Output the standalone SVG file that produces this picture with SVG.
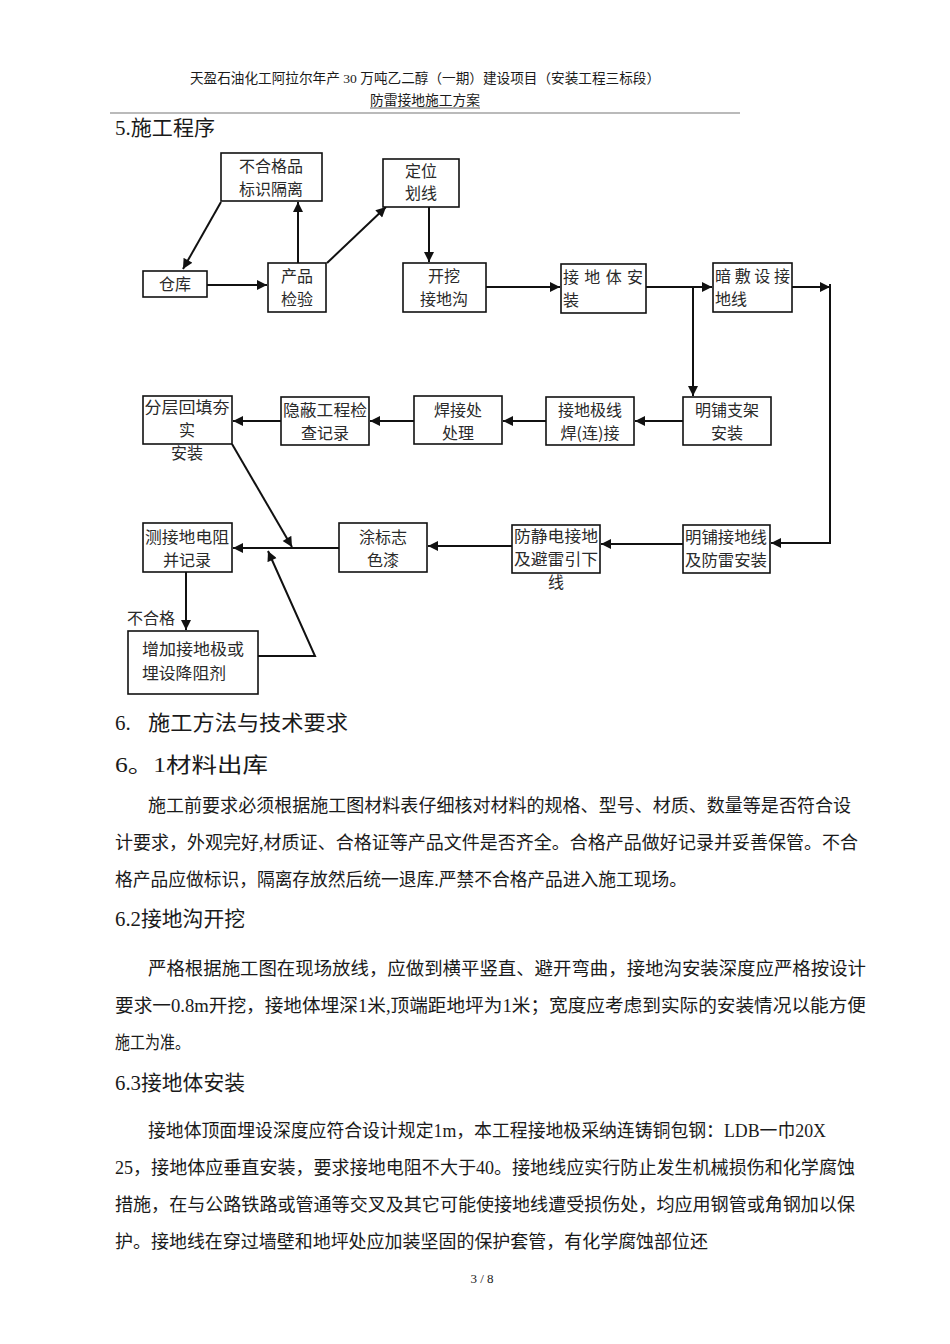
<svg xmlns="http://www.w3.org/2000/svg" width="950" height="1344" viewBox="0 0 950 1344">
<style>
text{font-family:"Liberation Serif","Noto Sans CJK SC",serif;fill:#1a1a1a}
.hd{font-size:13.5px}
.h1{font-size:21px}
.p{font-size:18px}
.n{font-size:16px;font-family:"Noto Sans CJK SC",sans-serif;fill:#2a2a2a}
.c{text-anchor:middle}
.box{fill:#fff;stroke:#111;stroke-width:1.6}
.ln{fill:none;stroke:#111;stroke-width:2}
</style>
<defs>
<marker id="ah" viewBox="0 0 10 10" refX="10" refY="5" markerWidth="5.5" markerHeight="5" orient="auto" markerUnits="strokeWidth">
<path d="M0,0 L10,5 L0,10 z" fill="#111"/>
</marker>
</defs>
<rect width="950" height="1344" fill="#fff"/>
<text class="hd c" x="425" y="83" textLength="470" lengthAdjust="spacingAndGlyphs">天盈石油化工阿拉尔年产 30 万吨乙二醇（一期）建设项目（安装工程三标段）</text>
<text class="hd c" x="425" y="105" textLength="110" lengthAdjust="spacingAndGlyphs">防雷接地施工方案</text>
<line x1="370" y1="108" x2="480" y2="108" stroke="#333" stroke-width="0.8"/>
<line x1="110" y1="113" x2="740" y2="113" stroke="#777" stroke-width="1.2"/>
<text class="h1" x="115" y="135" textLength="100" lengthAdjust="spacingAndGlyphs">5.施工程序</text>

<g id="connectors">
<line class="ln" x1="221" y1="202" x2="183" y2="269" marker-end="url(#ah)"/>
<line class="ln" x1="207" y1="285" x2="267" y2="285" marker-end="url(#ah)"/>
<line class="ln" x1="298" y1="263" x2="298" y2="202" marker-end="url(#ah)"/>
<line class="ln" x1="327" y1="263" x2="386" y2="207" marker-end="url(#ah)"/>
<line class="ln" x1="429" y1="207" x2="429" y2="262" marker-end="url(#ah)"/>
<line class="ln" x1="486" y1="287" x2="560" y2="287" marker-end="url(#ah)"/>
<line class="ln" x1="646" y1="287" x2="712" y2="287" marker-end="url(#ah)"/>
<line class="ln" x1="792" y1="287" x2="830" y2="287" marker-end="url(#ah)"/>
<polyline class="ln" points="830,284 830,543 771,543" marker-end="url(#ah)"/>
<line class="ln" x1="693" y1="287" x2="693" y2="396" marker-end="url(#ah)"/>
<line class="ln" x1="683" y1="421" x2="635" y2="421" marker-end="url(#ah)"/>
<line class="ln" x1="546" y1="421" x2="503" y2="421" marker-end="url(#ah)"/>
<line class="ln" x1="414" y1="421" x2="370" y2="421" marker-end="url(#ah)"/>
<line class="ln" x1="281" y1="421" x2="233" y2="421" marker-end="url(#ah)"/>
<line class="ln" x1="232" y1="444" x2="292" y2="547" marker-end="url(#ah)"/>
<line class="ln" x1="683" y1="544" x2="601" y2="544" marker-end="url(#ah)"/>
<line class="ln" x1="512" y1="546" x2="428" y2="546" marker-end="url(#ah)"/>
<line class="ln" x1="339" y1="548" x2="233" y2="548" marker-end="url(#ah)"/>
<line class="ln" x1="186" y1="572" x2="186" y2="630" marker-end="url(#ah)"/>
<polyline class="ln" points="258,656 315,656 268,551" marker-end="url(#ah)"/>
<text class="n" x="127" y="624">不合格</text>
</g>

<g id="n_reject"><rect class="box" x="221" y="153" width="101" height="48"/>
<text class="n c" x="271" y="172">不合格品</text><text class="n c" x="271" y="195">标识隔离</text></g>
<g id="n_store"><rect class="box" x="143" y="271" width="64" height="26"/>
<text class="n c" x="175" y="290">仓库</text></g>
<g id="n_inspect"><rect class="box" x="268" y="263" width="58" height="49"/>
<text class="n c" x="297" y="282">产品</text><text class="n c" x="297" y="305">检验</text></g>
<g id="n_locate"><rect class="box" x="383" y="159" width="76" height="48"/>
<text class="n c" x="421" y="177">定位</text><text class="n c" x="421" y="199">划线</text></g>
<g id="n_dig"><rect class="box" x="403" y="263" width="83" height="49"/>
<text class="n c" x="444" y="282">开挖</text><text class="n c" x="444" y="305">接地沟</text></g>
<g id="n_body"><rect class="box" x="561" y="264" width="85" height="49"/>
<text class="n" x="563" y="283" textLength="80" lengthAdjust="spacing">接地体安</text><text class="n" x="563" y="306">装</text></g>
<g id="n_hidden"><rect class="box" x="713" y="263" width="79" height="49"/>
<text class="n" x="715" y="282" textLength="75" lengthAdjust="spacing">暗敷设接</text><text class="n" x="715" y="305">地线</text></g>

<g id="n_bracket"><rect class="box" x="683" y="397" width="88" height="48"/>
<text class="n c" x="727" y="416">明铺支架</text><text class="n c" x="727" y="439">安装</text></g>
<g id="n_weld"><rect class="box" x="546" y="397" width="88" height="48"/>
<text class="n c" x="590" y="416">接地极线</text><text class="n c" x="590" y="439">焊(连)接</text></g>
<g id="n_weldfix"><rect class="box" x="414" y="396" width="88" height="48"/>
<text class="n c" x="458" y="416">焊接处</text><text class="n c" x="458" y="439">处理</text></g>
<g id="n_record"><rect class="box" x="281" y="397" width="88" height="48"/>
<text class="n c" x="325" y="416" textLength="84" lengthAdjust="spacingAndGlyphs">隐蔽工程检</text><text class="n c" x="325" y="439">查记录</text></g>
<g id="n_backfill"><rect class="box" x="143" y="396" width="89" height="48"/>
<text class="n c" x="187" y="413" textLength="85" lengthAdjust="spacingAndGlyphs">分层回填夯</text><text class="n c" x="187" y="436">实</text><text class="n c" x="187" y="459">安装</text></g>

<g id="n_exposed"><rect class="box" x="683" y="525" width="87" height="48"/>
<text class="n c" x="726" y="543" textLength="82" lengthAdjust="spacingAndGlyphs">明铺接地线</text><text class="n c" x="726" y="566" textLength="82" lengthAdjust="spacingAndGlyphs">及防雷安装</text></g>
<g id="n_static"><rect class="box" x="512" y="525" width="88" height="48"/>
<text class="n c" x="556" y="542" textLength="84" lengthAdjust="spacingAndGlyphs">防静电接地</text><text class="n c" x="556" y="565" textLength="84" lengthAdjust="spacingAndGlyphs">及避雷引下</text><text class="n c" x="556" y="588">线</text></g>
<g id="n_paint"><rect class="box" x="339" y="523" width="88" height="49"/>
<text class="n c" x="383" y="543">涂标志</text><text class="n c" x="383" y="566">色漆</text></g>
<g id="n_measure"><rect class="box" x="143" y="523" width="89" height="49"/>
<text class="n c" x="187" y="543" textLength="84" lengthAdjust="spacingAndGlyphs">测接地电阻</text><text class="n c" x="187" y="566">并记录</text></g>
<g id="n_add"><rect class="box" x="128" y="631" width="130" height="63"/>
<text class="n" x="142" y="655" textLength="102" lengthAdjust="spacingAndGlyphs">增加接地极或</text><text class="n" x="142" y="679" textLength="84" lengthAdjust="spacingAndGlyphs">埋设降阻剂</text></g>

<text class="h1" x="115" y="730">6.</text>
<text class="h1" x="148" y="730" textLength="200" lengthAdjust="spacingAndGlyphs">施工方法与技术要求</text>
<text class="h1" x="115" y="772" textLength="153" lengthAdjust="spacingAndGlyphs">6。1材料出库</text>
<text class="p" x="148" y="812" textLength="703" lengthAdjust="spacingAndGlyphs">施工前要求必须根据施工图材料表仔细核对材料的规格、型号、材质、数量等是否符合设</text>
<text class="p" x="115" y="849" textLength="743" lengthAdjust="spacingAndGlyphs">计要求，外观完好,材质证、合格证等产品文件是否齐全。合格产品做好记录并妥善保管。不合</text>
<text class="p" x="115" y="886" textLength="572" lengthAdjust="spacingAndGlyphs">格产品应做标识，隔离存放然后统一退库.严禁不合格产品进入施工现场。</text>
<text class="h1" x="115" y="926" textLength="130" lengthAdjust="spacingAndGlyphs">6.2接地沟开挖</text>
<text class="p" x="148" y="975" textLength="718" lengthAdjust="spacingAndGlyphs">严格根据施工图在现场放线，应做到横平竖直、避开弯曲，接地沟安装深度应严格按设计</text>
<text class="p" x="115" y="1012" textLength="751" lengthAdjust="spacingAndGlyphs">要求一0.8m开挖，接地体埋深1米,顶端距地坪为1米；宽度应考虑到实际的安装情况以能方便</text>
<text class="p" x="115" y="1049" textLength="75" lengthAdjust="spacingAndGlyphs">施工为准。</text>
<text class="h1" x="115" y="1090" textLength="130" lengthAdjust="spacingAndGlyphs">6.3接地体安装</text>
<text class="p" x="148" y="1137" textLength="678" lengthAdjust="spacingAndGlyphs">接地体顶面埋设深度应符合设计规定1m，本工程接地极采纳连铸铜包钢：LDB一巾20X</text>
<text class="p" x="115" y="1174" textLength="740" lengthAdjust="spacingAndGlyphs">25，接地体应垂直安装，要求接地电阻不大于40。接地线应实行防止发生机械损伤和化学腐蚀</text>
<text class="p" x="115" y="1211" textLength="740" lengthAdjust="spacingAndGlyphs">措施，在与公路铁路或管通等交叉及其它可能使接地线遭受损伤处，均应用钢管或角钢加以保</text>
<text class="p" x="115" y="1248" textLength="593" lengthAdjust="spacingAndGlyphs">护。接地线在穿过墙壁和地坪处应加装坚固的保护套管，有化学腐蚀部位还</text>
<text class="c" x="482" y="1283" style="font-size:13px">3 / 8</text>
</svg>
